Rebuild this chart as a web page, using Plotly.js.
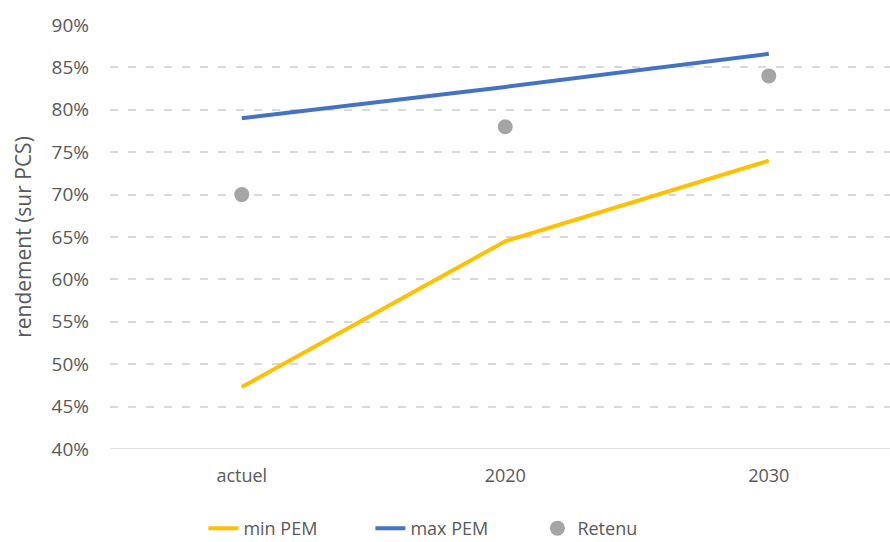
<!DOCTYPE html>
<html>
<head>
<meta charset="utf-8">
<script src="https://cdn.plot.ly/plotly-3.0.1.min.js"></script>
<style>html,body{margin:0;padding:0;background:#fff;}#chart{width:890px;height:542px;}</style>
</head>
<body>
<div id="chart"></div>
<script>
// Rendement (sur PCS) par horizon
const categories = ['actuel', '2020', '2030'];
const minPEM = [0.473, 0.645, 0.74];
const maxPEM = [0.79, 0.827, 0.866];
const retenu = [0.70, 0.78, 0.84];
const yTicks = [0.40, 0.45, 0.50, 0.55, 0.60, 0.65, 0.70, 0.75, 0.80, 0.85, 0.90];

const textColor = '#595959';
const fontFam = 'Open Sans, Noto Sans, sans-serif';

const traces = [
  {x: categories, y: minPEM, name: 'min PEM', type: 'scatter', mode: 'lines',
   line: {color: '#FFC000', width: 4}},
  {x: categories, y: maxPEM, name: 'max PEM', type: 'scatter', mode: 'lines',
   line: {color: '#4472C4', width: 4}},
  {x: categories, y: retenu, name: 'Retenu', type: 'scatter', mode: 'markers',
   marker: {color: '#A5A5A5', size: 15}}
];

const layout = {
  width: 890, height: 542,
  margin: {l: 110, r: 0, t: 25, b: 93},
  paper_bgcolor: '#fff', plot_bgcolor: '#fff',
  font: {family: fontFam, color: textColor, size: 18},
  showlegend: true,
  legend: {orientation: 'h', xref: 'container', yref: 'container',
           x: 0.51, xanchor: 'center', y: 0.025, yanchor: 'middle',
           font: {size: 18, color: textColor}, itemwidth: 30, tracegroupgap: 0,
           entrywidth: 122, entrywidthmode: 'pixels'},
  xaxis: {type: 'category', range: [-0.5, 2.46], showgrid: false, zeroline: false,
          showline: false, ticks: '', ticklabelstandoff: 14,
          tickfont: {size: 18, color: textColor}},
  yaxis: {range: [0.40, 0.90], tickvals: yTicks, tickformat: '.0%',
          showgrid: true, gridcolor: '#D9D9D9', gridwidth: 2, griddash: '8px,10px',
          zeroline: false, showline: false, ticks: '', ticklabelstandoff: 20,
          tickfont: {size: 19, color: textColor},
          title: {text: 'rendement (sur PCS)', font: {size: 21, color: textColor}, standoff: 14}},
  shapes: [{type: 'line', xref: 'paper', yref: 'y', x0: 0, x1: 1, y0: 0.40, y1: 0.40,
            line: {color: '#D9D9D9', width: 1.5}}]
};

Plotly.newPlot('chart', traces, layout, {displayModeBar: false, staticPlot: true});
</script>
</body>
</html>
